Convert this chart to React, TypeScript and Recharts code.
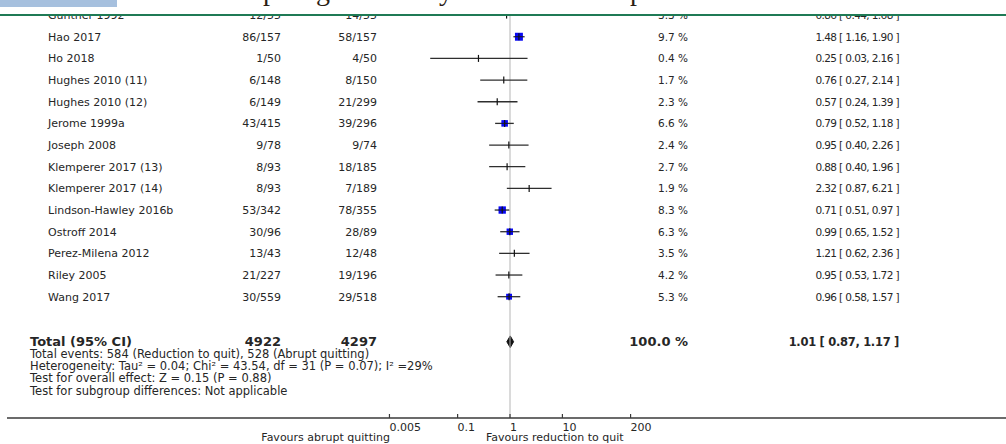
import React from "react";
import {
  Area,
  ComposedChart,
  ErrorBar,
  ReferenceLine,
  Scatter,
  XAxis,
  YAxis,
} from "recharts";

document.body.style.margin = "0";

const studyNames = [
  "Gunther 1992",
  "Hao 2017",
  "Ho 2018",
  "Hughes 2010 (11)",
  "Hughes 2010 (12)",
  "Jerome 1999a",
  "Joseph 2008",
  "Klemperer 2017 (13)",
  "Klemperer 2017 (14)",
  "Lindson-Hawley 2016b",
  "Ostroff 2014",
  "Perez-Milena 2012",
  "Riley 2005",
  "Wang 2017",
];
const eventsReduction = [
  "12/55", "86/157", "1/50", "6/148", "6/149", "43/415", "9/78",
  "8/93", "8/93", "53/342", "30/96", "13/43", "21/227", "30/559",
];
const eventsAbrupt = [
  "14/55", "58/157", "4/50", "8/150", "21/299", "39/296", "9/74",
  "18/185", "7/189", "78/355", "28/89", "12/48", "19/196", "29/518",
];
const weights = [3.3, 9.7, 0.4, 1.7, 2.3, 6.6, 2.4, 2.7, 1.9, 8.3, 6.3, 3.5, 4.2, 5.3];
const riskRatio = [0.86, 1.48, 0.25, 0.76, 0.57, 0.79, 0.95, 0.88, 2.32, 0.71, 0.99, 1.21, 0.95, 0.96];
const ciLow = [0.44, 1.16, 0.03, 0.27, 0.24, 0.52, 0.4, 0.4, 0.87, 0.51, 0.65, 0.62, 0.53, 0.58];
const ciHigh = [1.68, 1.9, 2.16, 2.14, 1.39, 1.18, 2.26, 1.96, 6.21, 0.97, 1.52, 2.36, 1.72, 1.57];

const totalLabel = "Total (95% CI)";
const totalReduction = "4922";
const totalAbrupt = "4297";
const totalWeight = 100.0;
const totalRR = 1.01;
const totalLow = 0.87;
const totalHigh = 1.17;

const footerLines = [
  "Total events: 584 (Reduction to quit), 528 (Abrupt quitting)",
  "Heterogeneity: Tau\u00b2 = 0.04; Chi\u00b2 = 43.54, df = 31 (P = 0.07); I\u00b2 =29%",
  "Test for overall effect: Z = 0.15 (P = 0.88)",
  "Test for subgroup differences: Not applicable",
];

const xTicks = [0.005, 0.1, 1, 10, 200];
const leftLabel = "Favours abrupt quitting";
const rightLabel = "Favours reduction to quit";

// layout
const W = 1006;
const H = 444;
const TOTAL_ROW = 15.08;
const Y_MIN = -0.05;
const Y_MAX = 18.6;
const LOG_MIN = -9.6;
const LOG_MAX = 9.466;
const DIAMOND_HALF = 0.27;
const TEXT = "#262626";

const fmt = (v: number) => v.toFixed(2);
const ciText = (rr: number, lo: number, hi: number) =>
  `${fmt(rr)} [ ${fmt(lo)}, ${fmt(hi)} ]`;

const rows = studyNames.map((name, i) => ({
  name,
  y: i,
  x: riskRatio[i],
  w: weights[i],
  e1: eventsReduction[i],
  e2: eventsAbrupt[i],
  ci: ciText(riskRatio[i], ciLow[i], ciHigh[i]),
  err: [riskRatio[i] - ciLow[i], ciHigh[i] - riskRatio[i]],
}));

const totalRow = [{ x: totalRR, y: TOTAL_ROW }];

const diamond = [
  { x: totalLow, d: [TOTAL_ROW, TOTAL_ROW] },
  { x: totalRR, d: [TOTAL_ROW - DIAMOND_HALF, TOTAL_ROW + DIAMOND_HALF] },
  { x: totalHigh, d: [TOTAL_ROW, TOTAL_ROW] },
];

function StudyRow(props: any) {
  const { cx, cy, payload } = props;
  // only the heavier studies get a visible weight square
  const side = payload.w >= 5 ? 2.55 * Math.sqrt(payload.w) : 0;
  return (
    <g>
      {side > 0 && (
        <rect x={cx - side / 2} y={cy - side / 2} width={side} height={side} fill="#0808f4" />
      )}
      {side > 0 && (
        <line x1={cx - side / 2} x2={cx + side / 2} y1={cy} y2={cy} stroke="#1a1a1a" strokeWidth={1} />
      )}
      <line x1={cx} x2={cx} y1={cy - 3.5} y2={cy + 3.5} stroke="#111" strokeWidth={1.2} />
      <g fill={TEXT} fontSize={11}>
        <text x={48} y={cy + 4}>{payload.name}</text>
        <text x={281} y={cy + 4} textAnchor="end">{payload.e1}</text>
        <text x={377} y={cy + 4} textAnchor="end">{payload.e2}</text>
        <text x={688} y={cy + 4} textAnchor="end" fontSize={10.5}>{`${payload.w.toFixed(1)} %`}</text>
        <text x={899} y={cy + 4} textAnchor="end" fontSize={10.5} letterSpacing={-0.6}>{payload.ci}</text>
      </g>
    </g>
  );
}

function TotalRow(props: any) {
  const { cy } = props;
  return (
    <g fill={TEXT}>
      <g fontWeight="bold" fontSize={13}>
        <text x={30} y={cy + 4.5}>{totalLabel}</text>
        <text x={281} y={cy + 4.5} textAnchor="end">{totalReduction}</text>
        <text x={377} y={cy + 4.5} textAnchor="end">{totalAbrupt}</text>
        <text x={688} y={cy + 4.5} textAnchor="end">{`${totalWeight.toFixed(1)} %`}</text>
        <text x={899} y={cy + 4.5} textAnchor="end" fontSize={11.5} letterSpacing={-0.3}>
          {ciText(totalRR, totalLow, totalHigh)}
        </text>
      </g>
      <g fontSize={11.5}>
        {footerLines.map((line, i) => (
          <text key={line} x={30} y={cy + 16.5 + i * 12.1}>{line}</text>
        ))}
      </g>
    </g>
  );
}

function AxisTick(props: any) {
  const { x, y, payload } = props;
  return (
    <g>
      <line x1={x} x2={x} y1={y - 4} y2={y} stroke="#3a3a3a" strokeWidth={1.2} />
      <text x={x} y={y + 13} fontSize={11} fill={TEXT}>{String(payload.value)}</text>
      {payload.value === 1 && (
        <g fontSize={11} fill={TEXT}>
          <text x={x - 120} y={y + 23} textAnchor="end">{leftLabel}</text>
          <text x={x - 24} y={y + 23}>{rightLabel}</text>
        </g>
      )}
    </g>
  );
}

export default function App() {
  return (
    <div
      style={{
        position: "relative",
        width: W,
        height: H,
        background: "#fff",
        fontFamily: "'DejaVu Sans', sans-serif",
        overflow: "hidden",
      }}
    >
      <ComposedChart width={W} height={H} margin={{ top: 14, right: 0, bottom: 0, left: 7 }}>
        <XAxis
          type="number"
          dataKey="x"
          scale="log"
          domain={[Math.pow(10, LOG_MIN), Math.pow(10, LOG_MAX)]}
          allowDataOverflow
          ticks={xTicks}
          interval={0}
          tick={(p: any) => <AxisTick {...p} />}
          tickLine={false}
          tickSize={0}
          tickMargin={0}
          height={26}
          axisLine={{ stroke: "#3a3a3a", strokeWidth: 1.5 }}
        />
        <YAxis type="number" dataKey="y" domain={[Y_MIN, Y_MAX]} allowDataOverflow reversed hide />
        <ReferenceLine x={1} stroke="#b5b5b5" strokeWidth={1} />
        <Scatter data={rows} shape={(p: any) => <StudyRow {...p} />} isAnimationActive={false}>
          <ErrorBar dataKey="err" direction="x" width={0} stroke="#2e2e2e" strokeWidth={1.3} />
        </Scatter>
        <Area
          data={diamond}
          dataKey="d"
          type="linear"
          fill="#111"
          fillOpacity={1}
          stroke="#111"
          strokeWidth={1}
          dot={false}
          activeDot={false}
          isAnimationActive={false}
        />
        <Scatter data={totalRow} shape={(p: any) => <TotalRow {...p} />} isAnimationActive={false} />
      </ComposedChart>
      <svg
        width={W}
        height={17}
        style={{ position: "absolute", left: 0, top: 0, pointerEvents: "none" }}
      >
        <rect x={0} y={0} width={W} height={14} fill="#fff" />
        <rect x={0} y={0} width={117} height={7} fill="#a6c0de" />
        <g fontFamily="'Liberation Serif', serif" fontSize={28} fill="#2a1d14">
          <text x={263} y={-0.5}>p</text>
          <text x={316} y={-0.5}>g</text>
          <text x={439} y={-0.5}>y</text>
          <text x={630} y={-0.5}>p</text>
        </g>
        <line x1={0} x2={W} y1={15} y2={15} stroke="#1f7a55" strokeWidth={2} />
      </svg>
    </div>
  );
}
